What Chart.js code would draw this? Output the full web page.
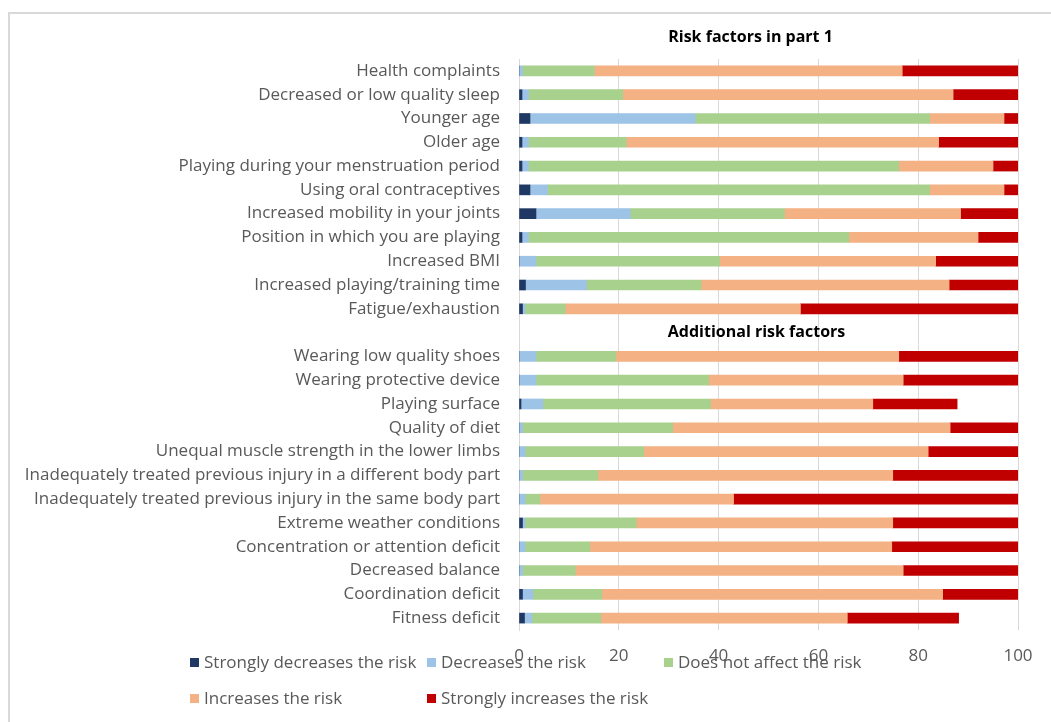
<!DOCTYPE html>
<html>
<head>
<meta charset="utf-8">
<script src="https://cdn.jsdelivr.net/npm/chart.js@4/dist/chart.umd.min.js"></script>
<style>
  html, body { margin: 0; padding: 0; background: #ffffff; }
  #wrap { position: relative; width: 1051px; height: 722px; overflow: hidden; }
  #frame { position: absolute; left: 8px; top: 12px; width: 1100px; height: 800px;
           border-top: 2px solid #d9d9d9; border-left: 2px solid #d9d9d9; box-sizing: border-box; }
  canvas { position: absolute; left: 0; top: 0; }
</style>
</head>
<body>
<div id="wrap">
  <div id="frame"></div>
  <canvas id="chart" width="1051" height="722"></canvas>
</div>
<script>
// Risk factor items, top to bottom; the empty entry separates the two groups
const categories = [
  "Health complaints",
  "Decreased or low quality sleep",
  "Younger age",
  "Older age",
  "Playing during your menstruation period",
  "Using oral contraceptives",
  "Increased mobility in your joints",
  "Position in which you are playing",
  "Increased BMI",
  "Increased playing/training time",
  "Fatigue/exhaustion",
  "",
  "Wearing low quality shoes",
  "Wearing protective device",
  "Playing surface",
  "Quality of diet",
  "Unequal muscle strength in the lower limbs",
  "Inadequately treated previous injury in a different body part",
  "Inadequately treated previous injury in the same body part",
  "Extreme weather conditions",
  "Concentration or attention deficit",
  "Decreased balance",
  "Coordination deficit",
  "Fitness deficit"
];

const seriesNames = [
  "Strongly decreases the risk",
  "Decreases the risk",
  "Does not affect the risk",
  "Increases the risk",
  "Strongly increases the risk"
];

// Percentage of answers per item
const stronglyDecreases = [0, 0.6, 2.2, 0.6, 0.6, 2.2, 3.4, 0.6, 0, 1.3, 0.7, null,
                           0, 0, 0.4, 0, 0, 0, 0, 0.7, 0, 0, 0.7, 1.1];
const decreases         = [0.7, 1.3, 33.1, 1.3, 1.3, 3.5, 18.9, 1.3, 3.4, 12.2, 0.5, null,
                           3.4, 3.4, 4.4, 0.7, 1.2, 0.7, 1.2, 0.5, 1.2, 0.7, 2.1, 1.5];
const noEffect          = [14.4, 18.9, 47.0, 19.6, 74.2, 76.6, 30.9, 64.2, 36.8, 23.0, 8.1, null,
                           16.0, 34.6, 33.6, 30.1, 23.8, 15.1, 3.0, 22.3, 13.0, 10.6, 13.8, 13.8];
const increases         = [61.7, 66.2, 14.9, 62.6, 18.9, 14.9, 35.3, 25.9, 43.3, 49.7, 47.1, null,
                           56.7, 39.0, 32.5, 55.6, 57.0, 59.1, 38.8, 51.4, 60.5, 65.7, 68.3, 49.4];
const stronglyIncreases = [23.2, 13.0, 2.8, 15.9, 5.0, 2.8, 11.5, 8.0, 16.5, 13.8, 43.6, null,
                           23.9, 23.0, 16.9, 13.6, 18.0, 25.1, 57.0, 25.1, 25.3, 23.0, 15.1, 22.3];

const xTicks = [0, 20, 40, 60, 80, 100];
const groupTitles = ["Risk factors in part 1", "Additional risk factors"];
const gapIndex = categories.indexOf("");

const seriesColors = ["#1f3864", "#9dc3e6", "#a9d18e", "#f4b183", "#c00000"];
const seriesValues = [stronglyDecreases, decreases, noEffect, increases, stronglyIncreases];

const FONT = "'Open Sans', 'DejaVu Sans', sans-serif";
const TEXT = "#595959";

// Group headings: the first above the plot, the second inside the empty row
const groupTitlePlugin = {
  id: "groupTitles",
  afterDraw(chart) {
    const { ctx, chartArea, scales } = chart;
    ctx.save();
    ctx.font = "bold 16px " + FONT;
    ctx.fillStyle = "#000000";
    ctx.textAlign = "center";
    ctx.textBaseline = "middle";
    const w = chartArea.right - chartArea.left;
    ctx.fillText(groupTitles[0], chartArea.left + w * 0.464, chartArea.top - 22);
    ctx.fillText(groupTitles[1], chartArea.left + w * 0.476, scales.y.getPixelForValue(gapIndex));
    ctx.restore();
  }
};

// Two-row legend under the axis
const legendPlugin = {
  id: "twoRowLegend",
  afterDraw(chart) {
    const { ctx } = chart;
    const cols = [190, 427, 664];
    const rows = [663, 699];
    ctx.save();
    ctx.font = "17px " + FONT;
    ctx.textBaseline = "middle";
    ctx.textAlign = "left";
    chart.data.datasets.forEach((ds, i) => {
      const x = cols[i % 3];
      const y = rows[Math.floor(i / 3)];
      ctx.fillStyle = ds.backgroundColor;
      ctx.fillRect(x, y - 5, 9, 9);
      ctx.fillStyle = TEXT;
      ctx.fillText(ds.label, x + 14, y);
    });
    ctx.restore();
  }
};

new Chart(document.getElementById("chart"), {
  type: "bar",
  data: {
    labels: categories,
    datasets: seriesNames.map((name, i) => ({
      label: name,
      data: seriesValues[i],
      backgroundColor: seriesColors[i],
      borderWidth: 0,
      barThickness: 10
    }))
  },
  options: {
    indexAxis: "y",
    responsive: false,
    animation: false,
    layout: { padding: { left: 0, right: 33, top: 59, bottom: 0 } },
    plugins: {
      legend: { display: false },
      title: { display: false },
      tooltip: { enabled: false }
    },
    scales: {
      x: {
        stacked: true,
        min: 0,
        max: 100,
        afterFit(scale) { scale.height = 92; },
        afterBuildTicks(scale) { scale.ticks = xTicks.map(v => ({ value: v })); },
        grid: { color: "#d9d9d9", lineWidth: 1, drawTicks: false },
        border: { display: false },
        ticks: { color: TEXT, font: { family: FONT, size: 17 }, padding: 16, maxRotation: 0 }
      },
      y: {
        stacked: true,
        afterFit(scale) { scale.width = 519; },
        grid: { display: false, drawTicks: false },
        border: { display: true, color: "#d9d9d9", width: 1 },
        ticks: { color: TEXT, font: { family: FONT, size: 17 }, padding: 19, autoSkip: false }
      }
    }
  },
  plugins: [groupTitlePlugin, legendPlugin]
});
</script>
</body>
</html>
